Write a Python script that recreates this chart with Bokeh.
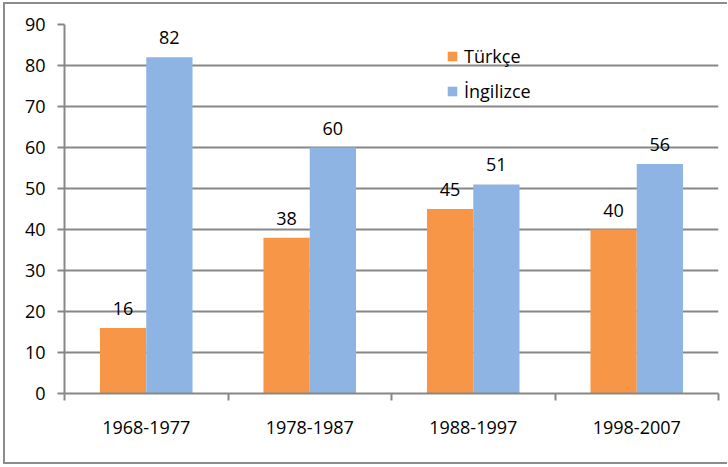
from bokeh.plotting import figure
from bokeh.models import ColumnDataSource, FixedTicker, Legend, LegendItem, LabelSet
from bokeh.core.properties import value
from bokeh.embed import file_html
from bokeh.resources import INLINE

periods = ["1968-1977", "1978-1987", "1988-1997", "1998-2007"]
turkce = [16, 38, 45, 40]
ingilizce = [82, 60, 51, 56]
series_names = ["Türkçe", "İngilizce"]
colors = ["#F79646", "#8DB4E2"]
y_ticks = [0, 10, 20, 30, 40, 50, 60, 70, 80, 90]

FONT = "Open Sans"
GRAY = "#878787"
bw = 0.283
centers = [i + 0.5 for i in range(len(periods))]

src_t = ColumnDataSource(dict(x=[c - bw / 2 for c in centers], y=turkce, lbl=[str(v) for v in turkce]))
src_i = ColumnDataSource(dict(x=[c + bw / 2 for c in centers], y=ingilizce, lbl=[str(v) for v in ingilizce]))

p = figure(width=724, height=462, output_backend="svg", toolbar_location=None,
           x_range=(0, len(periods)), y_range=(0, 90))
p.min_border = 0
p.min_border_left = 59
p.min_border_right = 11
p.min_border_top = 20
p.min_border_bottom = 73
p.outline_line_color = None
p.background_fill_color = "white"
p.border_fill_color = "white"
p.styles = {"border-top": "2px solid #8c8c8c", "border-left": "2px solid #8c8c8c",
            "border-bottom": "2px solid #8c8c8c", "box-sizing": "border-box",
            "margin-left": "3px", "margin-top": "2px"}

r1 = p.vbar(x="x", top="y", width=bw, source=src_t, color=colors[0], line_color=None)
r2 = p.vbar(x="x", top="y", width=bw, source=src_i, color=colors[1], line_color=None)

for src in (src_t, src_i):
    p.add_layout(LabelSet(x="x", y="y", text="lbl", source=src, text_align="center",
                          text_baseline="bottom", y_offset=13, text_font=value(FONT),
                          text_font_size="18px", text_color="black"))

# axes
p.xgrid.visible = False
p.ygrid.grid_line_color = GRAY
p.ygrid.grid_line_width = 2
p.ygrid.ticker = FixedTicker(ticks=y_ticks)

p.yaxis.ticker = FixedTicker(ticks=y_ticks)
p.yaxis.axis_line_color = GRAY
p.yaxis.axis_line_width = 2
p.yaxis.major_tick_line_color = GRAY
p.yaxis.major_tick_line_width = 2
p.yaxis.major_tick_out = 7
p.yaxis.major_tick_in = 0
p.yaxis.minor_tick_line_color = None
p.yaxis.major_label_standoff = 12
p.yaxis.major_label_text_font = FONT
p.yaxis.major_label_text_font_size = "18px"
p.yaxis.major_label_text_color = "black"

p.xaxis.ticker = FixedTicker(ticks=centers, minor_ticks=list(range(len(periods) + 1)))
p.xaxis.major_label_overrides = {c: lab for c, lab in zip(centers, periods)}
p.xaxis.axis_line_color = GRAY
p.xaxis.axis_line_width = 2
p.xaxis.major_tick_line_color = None
p.xaxis.minor_tick_line_color = GRAY
p.xaxis.minor_tick_line_width = 2
p.xaxis.minor_tick_out = 7
p.xaxis.minor_tick_in = 0
p.xaxis.major_label_standoff = 20
p.xaxis.major_label_text_font = FONT
p.xaxis.major_label_text_font_size = "18px"
p.xaxis.major_label_text_color = "black"

legend = Legend(items=[LegendItem(label=series_names[0], renderers=[r1]),
                       LegendItem(label=series_names[1], renderers=[r2])],
                location=(382, 290), orientation="vertical")
legend.border_line_color = None
legend.background_fill_alpha = 0
legend.padding = 0
legend.margin = 0
legend.glyph_width = 12
legend.glyph_height = 12
legend.label_height = 20
legend.spacing = 11
legend.label_standoff = 6
legend.label_text_font = FONT
legend.label_text_font_size = "18px"
legend.label_text_color = "black"
p.add_layout(legend)

open("out.html", "w").write(file_html(p, INLINE))
